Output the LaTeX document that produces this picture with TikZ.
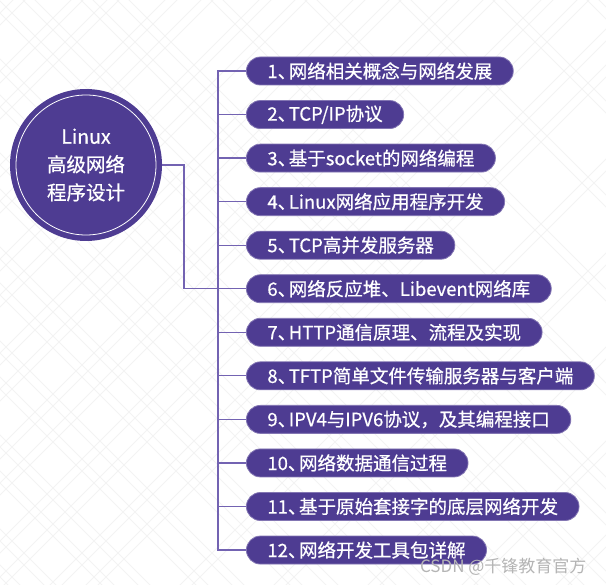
\documentclass[tikz,border=0pt]{standalone}
\usepackage{fontspec}
\setmainfont{Noto Sans CJK SC}
\newfontfamily\cjk[FakeBold=0.6]{Noto Sans CJK SC}
\newfontfamily\wmfont{Noto Sans CJK SC}
\newcommand\dn{、\kern-0.4em}
\definecolor{pfill}{HTML}{4E3C92}
\definecolor{pline}{HTML}{7363B2}
\definecolor{wmark}{HTML}{B4B4B4}
\definecolor{bgline}{HTML}{F3F3F3}
\begin{document}
\begin{tikzpicture}[x=1pt,y=-1pt,
  pill/.style={fill=pfill,draw=pfill!70!white,line width=0.8pt,rounded corners=14pt,
    minimum height=28pt,inner xsep=21pt,inner ysep=0pt,anchor=west,
    text=white,font=\cjk\fontsize{18.5}{20}\selectfont},
  link/.style={draw=pline,line width=1.3pt},
  bg/.style={draw=bgline,line width=1pt}]
\useasboundingbox (0,0) rectangle (606,585);
\fill[white] (0,0) rectangle (606,585);
% faint background lattice
\begin{scope}
\clip (0,0) rectangle (606,585);
\foreach \k in {0,...,13}{
  \foreach \o in {0,12}{
    \draw[bg] ({13+\o+94*\k-600},0) -- ++(-600,600);
    \draw[bg] ({13+\o+94*\k},0) -- ++(-600,600);
    \draw[bg] ({81+\o-94*\k+600},0) -- ++(600,600);
    \draw[bg] ({81+\o-94*\k},0) -- ++(600,600);
  }
}
\end{scope}
% central circle
\node[circle,fill=pfill,minimum size=152pt,inner sep=0pt] (c) at (86,165) {};
\draw[white,line width=0.8pt] (c.center) circle (70pt);
\node[text=white,align=center,font=\cjk\fontsize{19.5}{28}\selectfont] (ct) at (c.center) {Linux\\高级网络\\程序设计};
% items
\foreach \i/\t in {1/{1\dn 网络相关概念与网络发展},2/{2\dn TCP/IP协议},3/{3\dn 基于socket的网络编程},4/{4\dn Linux网络应用程序开发},5/{5\dn TCP高并发服务器},6/{6\dn 网络反应堆、Libevent网络库},7/{7\dn HTTP通信原理、流程及实现},8/{8\dn TFTP简单文件传输服务器与客户端},9/{9\dn IPV4与IPV6协议，及其编程接口},10/{10\dn 网络数据通信过程},11/{11\dn 基于原始套接字的底层网络开发},12/{12\dn 网络开发工具包详解}}{
  \node[pill] (p\i) at (246,{71+43.55*(\i-1)}) {\t};
}
\coordinate (bus) at (218,0);
% connectors
\draw[link] (c.east) -- (184,165) |- (p6.west);
\draw[link] (p1.west) -- (p1.west -| bus) |- (p12.west);
\foreach \i in {2,...,11}{
  \draw[link] (p\i.west) -- (p\i.west -| bus);
}
% watermark
\node[text=wmark,anchor=east,font=\wmfont\fontsize{17}{20}\selectfont] (wm) at (590,567) {CSDN @千锋教育官方};
\end{tikzpicture}
\end{document}
